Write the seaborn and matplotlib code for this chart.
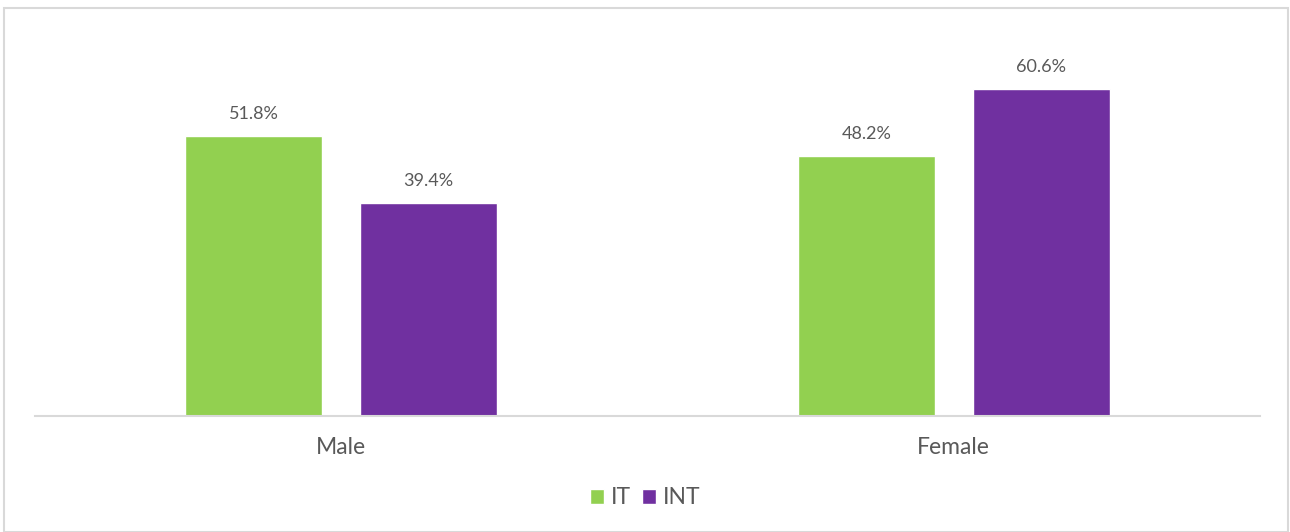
import matplotlib
matplotlib.use("Agg")
import matplotlib.pyplot as plt
import seaborn as sns
import pandas as pd
from matplotlib.patches import Rectangle

# Share of respondents by gender, per group
genders = ["Male", "Female"]
it_values = [51.8, 48.2]
int_values = [39.4, 60.6]
groups = ["IT", "INT"]
colors = {"IT": "#92D050", "INT": "#7030A0"}

df = pd.DataFrame({
    "gender": genders * 2,
    "group": [groups[0]] * len(genders) + [groups[1]] * len(genders),
    "value": it_values + int_values,
})

sns.set_theme(style="white")
plt.rcParams["font.family"] = ["Lato", "DejaVu Sans"]
text_color = "#595959"

fig = plt.figure(figsize=(12.9, 5.32), dpi=100)
ax = fig.add_axes([35 / 1290, (532 - 416) / 532, 1225 / 1290, (416 - 38) / 532])

sns.barplot(data=df, x="gender", y="value", hue="group", order=genders,
            hue_order=groups, palette=colors, width=0.57, gap=0.215,
            saturation=1, ax=ax, legend=False)

for container in ax.containers:
    ax.bar_label(container, labels=[f"{v:.1f}%" for v in container.datavalues],
                 padding=10, fontsize=13, color=text_color)

ax.set_xlim(-0.5, 1.5)
ax.set_ylim(0, 70)
ax.set_xlabel("")
ax.set_ylabel("")
ax.set_yticks([])
ax.tick_params(axis="x", length=0, pad=15, labelsize=16.5, labelcolor=text_color)
for side in ["top", "left", "right"]:
    ax.spines[side].set_visible(False)
ax.spines["bottom"].set_color("#d9d9d9")
ax.spines["bottom"].set_linewidth(1.5)

handles = [Rectangle((0, 0), 1, 1, facecolor=colors[g]) for g in groups]
fig.legend(handles, groups, loc="center", bbox_to_anchor=(0.5, (532 - 498) / 532),
           ncol=2, frameon=False, fontsize=16.5, labelcolor=text_color,
           handlelength=0.6, handleheight=0.6, handletextpad=0.3, columnspacing=0.5)

# outer frame around the chart
fig.patches.append(Rectangle((4 / 1290, 0), 1284 / 1290, 524 / 532,
                             transform=fig.transFigure, fill=False,
                             edgecolor="#d9d9d9", linewidth=1.5))

fig.savefig("out.png", dpi=100, facecolor="white")
